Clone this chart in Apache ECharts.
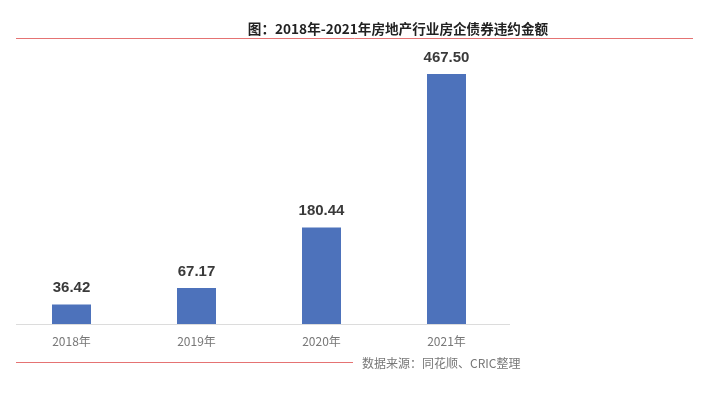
<!DOCTYPE html>
<html><head><meta charset="utf-8">
<script src="https://cdn.jsdelivr.net/npm/echarts@6/dist/echarts.min.js"></script>
<style>html,body{margin:0;padding:0;background:#fff}#c{width:709px;height:393px}</style>
</head><body><div id="c"></div>
<script>
var categories = ['2018年', '2019年', '2020年', '2021年'];
var values = [36.42, 67.17, 180.44, 467.50];
var titleText = '图：2018年-2021年房地产行业房企债券违约金额';
var sourceText = '数据来源：同花顺、CRIC整理';

var chart = echarts.init(document.getElementById('c'));
chart.setOption({
  animation: false,
  backgroundColor: '#fff',
  grid: { left: 9, width: 500, top: 56.6, bottom: 69 },
  xAxis: {
    type: 'category', data: categories,
    axisLine: { show: false }, axisTick: { show: false },
    axisLabel: { color: '#777', fontSize: 12, margin: 11, fontFamily: 'Noto Sans CJK SC' }
  },
  yAxis: { type: 'value', min: 0, max: 500, show: false, splitLine: { show: false } },
  series: [{
    type: 'bar', data: values, barWidth: 39,
    itemStyle: { color: '#4d72bb' },
    label: {
      show: true, position: 'top', distance: 9,
      formatter: function (p) { return p.value.toFixed(2); },
      color: '#3a3a3a', fontSize: 15, fontWeight: 'bold', fontFamily: 'Liberation Sans'
    }
  }],
  graphic: [
    { type: 'line', shape: { x1: 16, y1: 324.5, x2: 510, y2: 324.5 }, style: { stroke: '#dcdcdc', lineWidth: 1 } },
    { type: 'text', x: 398, y: 29, style: { text: titleText, fill: '#222', font: 'bold 13.6px "Noto Sans CJK SC"', textAlign: 'center', textVerticalAlign: 'middle' } },
    { type: 'line', shape: { x1: 16, y1: 38.5, x2: 693, y2: 38.5 }, style: { stroke: '#e57373', lineWidth: 1 } },
    { type: 'line', shape: { x1: 16, y1: 362.5, x2: 353, y2: 362.5 }, style: { stroke: '#e57373', lineWidth: 1 } },
    { type: 'text', x: 362, y: 363, style: { text: sourceText, fill: '#777', font: '12px "Noto Sans CJK SC"', textAlign: 'left', textVerticalAlign: 'middle' } }
  ]
});
</script></body></html>
